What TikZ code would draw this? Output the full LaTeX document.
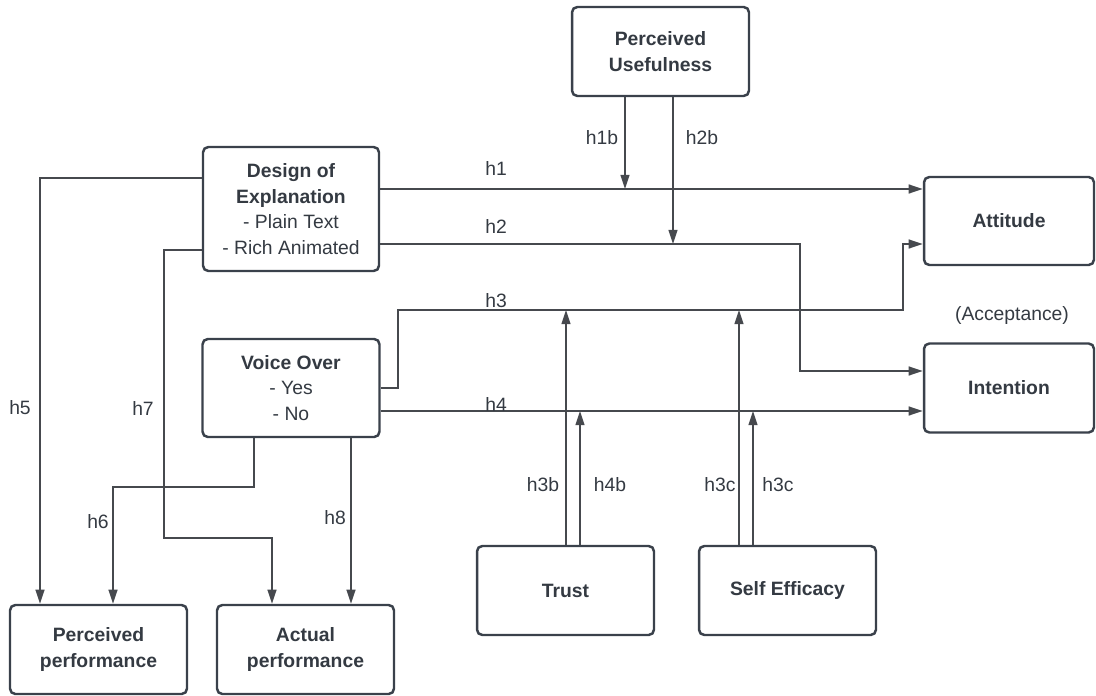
\documentclass[tikz,border=0pt]{standalone}
\usepackage{fontspec}
\setmainfont{Liberation Sans}
\usetikzlibrary{arrows.meta}

\definecolor{boxcol}{RGB}{58,65,75}
\definecolor{linecol}{RGB}{70,73,78}
\definecolor{textcol}{RGB}{52,58,66}

\begin{document}
\begin{tikzpicture}[x=0.02cm, y=-0.02cm, >={Triangle[length=8pt, width=5pt]},
        box/.style={draw=boxcol, line width=1.4pt, rounded corners=3pt, fill=white,
            minimum width=3.54cm, minimum height=1.78cm, align=center,
            text=textcol, font=\fontsize{11}{14.6}\selectfont\bfseries},
        arr/.style={->, draw=linecol, line width=1.1pt},
        lbl/.style={text=textcol, font=\fontsize{11}{13}\selectfont}]
    \useasboundingbox (0,0) rectangle (1096,696);

    % boxes
    \node[box] (pu) at (660.5,51.5) {Perceived\\Usefulness};
    \node[box, minimum width=3.52cm, minimum height=2.48cm] (dex) at (291,209)
        {Design of\\Explanation\\{\mdseries - Plain Text}\\{\mdseries - Rich Animated}};
    \node[box, minimum height=1.96cm] (vo) at (291,388)
        {Voice Over\\{\mdseries - Yes}\\{\mdseries - No}};
    \node[box, minimum width=3.4cm, minimum height=1.76cm] (att) at (1009,221) {Attitude};
    \node[box, minimum width=3.4cm] (int) at (1009,388) {Intention};
    \node[box] (trust) at (565.5,590.5) {Trust};
    \node[box] (se) at (787.5,590.5) {Self Efficacy};
    \node[box] (pp) at (98.5,649.5) {Perceived\\performance};
    \node[box] (ap) at (305.5,649.5) {Actual\\performance};
    \node[lbl] (acc) at (1012,316) {(Acceptance)};

    % moderator end points
    \coordinate (m1b) at (625,189);
    \coordinate (m2b) at (673,244);
    \coordinate (m3b) at (566,310);
    \coordinate (m4b) at (580,411);
    \coordinate (m3c) at (739,310);
    \coordinate (m4c) at (753,411);

    % main paths
    \draw[arr] (dex.east |- 0,189) -- (att.west |- 0,189);
    \draw[arr] (dex.east |- 0,244) -| (800,371) -- (int.west |- 0,371);
    \draw[arr] (vo.east |- 0,388) -- (398,388) |- (903,310) |- (att.west |- 0,244);
    \draw[arr] (vo.east |- 0,411) -- (int.west |- 0,411);
    \draw[arr] (dex.west |- 0,178) -| (pp.north -| 40,0);
    \draw[arr] (dex.west |- 0,250) -| (164,538) -| (ap.north -| 272,0);
    \draw[arr] (vo.south -| 254,0) |- (113,487) -- (pp.north -| 113,0);
    \draw[arr] (vo.south -| 351,0) -- (ap.north -| 351,0);

    % moderators
    \draw[arr] (pu.south -| m1b) -- (m1b);
    \draw[arr] (pu.south -| m2b) -- (m2b);
    \draw[arr] (trust.north -| m3b) -- (m3b);
    \draw[arr] (trust.north -| m4b) -- (m4b);
    \draw[arr] (se.north -| m3c) -- (m3c);
    \draw[arr] (se.north -| m4c) -- (m4c);

    % labels
    \node[lbl] at (496,168) {h1};
    \node[lbl] at (496,226) {h2};
    \node[lbl] at (496,301) {h3};
    \node[lbl] at (496,404) {h4};
    \node[lbl] at (20,408) {h5};
    \node[lbl] at (98,522) {h6};
    \node[lbl] at (143,408) {h7};
    \node[lbl] at (335,518) {h8};
    \node[lbl] at (602,138) {h1b};
    \node[lbl] at (702,138) {h2b};
    \node[lbl] at (543,485) {h3b};
    \node[lbl] at (610,485) {h4b};
    \node[lbl] at (720,485) {h3c};
    \node[lbl] at (778,485) {h3c};
\end{tikzpicture}
\end{document}
